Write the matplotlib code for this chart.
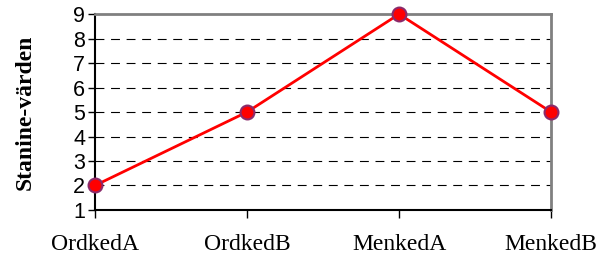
import matplotlib
matplotlib.use("Agg")
import matplotlib.pyplot as plt

categories = ["OrdkedA", "OrdkedB", "MenkedA", "MenkedB"]
values = [2, 5, 9, 5]
yticks = [1, 2, 3, 4, 5, 6, 7, 8, 9]

fig = plt.figure(figsize=(6.01, 2.57), dpi=100)
ax = fig.add_axes([0.158, 0.183, 0.759, 0.762])
x = list(range(len(categories)))
ax.plot(x, values, color="#ff0000", lw=2, marker="o", ms=10,
        markerfacecolor="#ff0000", markeredgecolor="#8b2a6b", markeredgewidth=1.5,
        zorder=5, clip_on=False)
ax.set_xlim(0, 3)
ax.set_ylim(1, 9)
ax.set_yticks(yticks)
ax.set_yticklabels([str(v) for v in yticks], family="Liberation Sans", fontsize=15.5)
ax.set_xticks(x)
ax.set_xticklabels(categories, family="Liberation Serif", fontsize=17)
ax.tick_params(axis="x", length=6, width=1, pad=11)
ax.tick_params(axis="y", length=5, width=1, pad=2)
for v in yticks[1:-1]:
    ax.axhline(v, color="black", lw=0.8, ls=(0, (8, 6)), zorder=1)
ax.spines["top"].set_color("#808080")
ax.spines["right"].set_color("#808080")
ax.spines["top"].set_linewidth(2)
ax.spines["right"].set_linewidth(2)
ax.spines["left"].set_linewidth(1.5)
ax.spines["bottom"].set_linewidth(1.5)
ax.set_ylabel("Stanine-värden", family="Liberation Serif", fontsize=17, fontweight="bold")
ax.yaxis.set_label_coords(-0.13, 0.5)
fig.savefig("out.png", dpi=100)
